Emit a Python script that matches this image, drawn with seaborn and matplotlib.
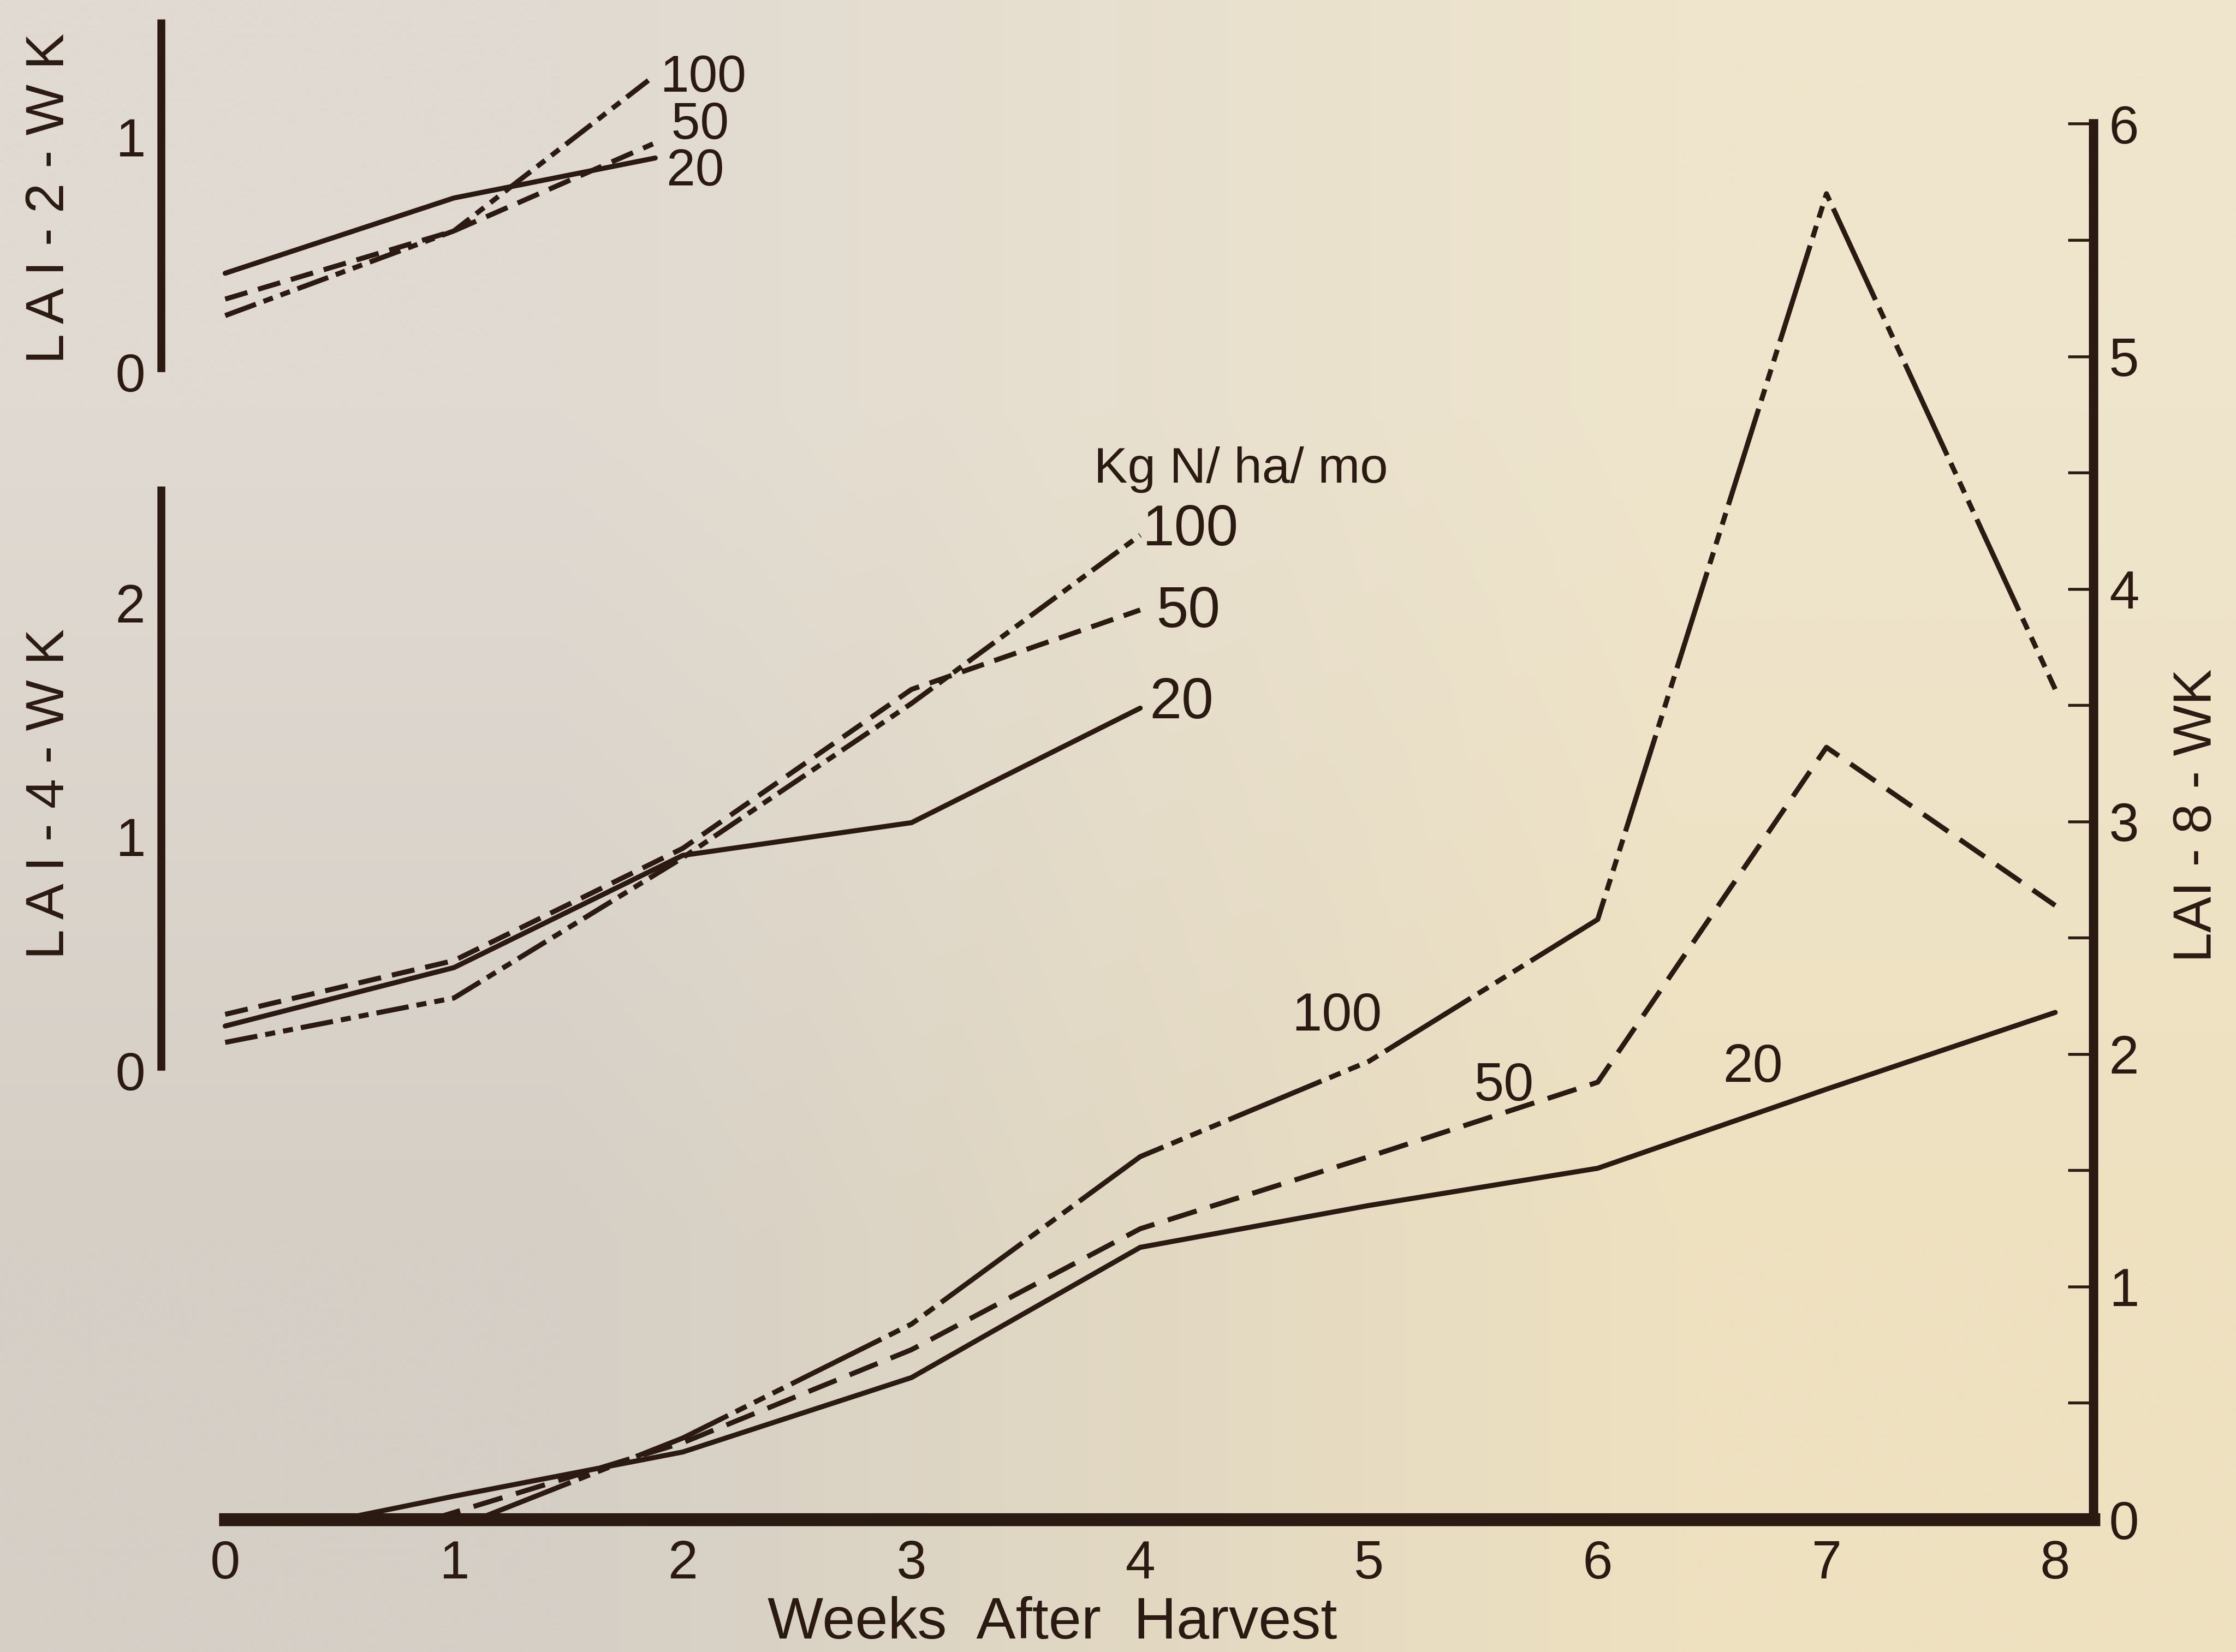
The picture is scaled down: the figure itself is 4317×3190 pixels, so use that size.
import numpy as np
import pandas as pd
import matplotlib
matplotlib.use("Agg")
import matplotlib.pyplot as plt
import seaborn as sns

# ---------------- data ----------------
rates = ["20", "50", "100"]

# LAI after 2 weeks of regrowth
wk2_weeks_20 = [0, 1, 1.88]
wk2_lai_20 = [0.42, 0.74, 0.91]
wk2_weeks_50 = [0, 1, 1.87]
wk2_lai_50 = [0.31, 0.60, 0.97]
wk2_weeks_100 = [0, 1, 1.85]
wk2_lai_100 = [0.24, 0.60, 1.24]

# LAI after 4 weeks of regrowth
wk4_weeks = [0, 1, 2, 3, 4]
wk4_lai_20 = [0.19, 0.44, 0.92, 1.06, 1.55]
wk4_lai_50 = [0.24, 0.47, 0.95, 1.63, 1.97]
wk4_lai_100 = [0.12, 0.31, 0.91, 1.57, 2.29]

# LAI after 8 weeks of regrowth
wk8_weeks_20 = [0.5, 1, 2, 3, 4, 5, 6, 7, 8]
wk8_lai_20 = [0.0, 0.10, 0.29, 0.61, 1.17, 1.35, 1.51, 1.85, 2.18]
wk8_weeks_50 = [0.9, 2, 3, 4, 5, 6, 7, 8]
wk8_lai_50 = [0.0, 0.33, 0.73, 1.25, 1.56, 1.88, 3.32, 2.64]
wk8_weeks_100 = [1.1, 2, 3, 4, 5, 6, 7, 8]
wk8_lai_100 = [0.0, 0.35, 0.84, 1.56, 1.97, 2.58, 5.70, 3.57]

x_ticks = [0, 1, 2, 3, 4, 5, 6, 7, 8]
y8_ticks = [0, 1, 2, 3, 4, 5, 6]
y4_ticks = [0, 1, 2]
y2_ticks = [0, 1]


def long_df(weeks_list, lai_list):
    frames = []
    for r, w, v in zip(rates, weeks_list, lai_list):
        frames.append(pd.DataFrame({"week": w, "lai": v, "rate": r}))
    return pd.concat(frames, ignore_index=True)


df2 = long_df([wk2_weeks_20, wk2_weeks_50, wk2_weeks_100],
              [wk2_lai_20, wk2_lai_50, wk2_lai_100])
df4 = long_df([wk4_weeks] * 3, [wk4_lai_20, wk4_lai_50, wk4_lai_100])
df8 = long_df([wk8_weeks_20, wk8_weeks_50, wk8_weeks_100],
              [wk8_lai_20, wk8_lai_50, wk8_lai_100])

# ---------------- style ----------------
sns.set_style("white")
plt.rcParams["font.family"] = ["Liberation Sans", "DejaVu Sans"]
INK = "#2b1a12"
LW = 7
FS = 75

dash_main = {"20": "", "50": (6.0, 2.8), "100": (20, 1.7, 2.4, 1.7, 2.4, 1.7, 2.4, 1.7)}
dash_small = {"20": "", "50": (4.6, 2.2), "100": (6.5, 1.6, 2.0, 1.6, 2.0, 1.6)}

W, H = 1568.0, 1159.0  # layout reference grid
fig = plt.figure(figsize=(43.17, 31.90), dpi=100)

# paper background
bg = fig.add_axes([0, 0, 1, 1], zorder=-10)
paper = np.array([[[224, 218, 210], [239, 229, 204]],
                  [[213, 207, 198], [238, 225, 192]]]) / 255.0
bg.imshow(paper, extent=[0, 1, 0, 1], aspect="auto", interpolation="bilinear")
bg.set_axis_off()

XMAX = 8.167

# ---------------- main axes (LAI-8-WK) ----------------
ax = fig.add_axes([158 / W, 1 - 1066 / H, (1468 - 158) / W, (1066 - 87) / H])
ax.patch.set_alpha(0)
sns.lineplot(data=df8, x="week", y="lai", style="rate", dashes=dash_main,
             color=INK, lw=LW, legend=False, estimator=None, sort=True, ax=ax)
ax.set_xlim(0, XMAX)
ax.set_ylim(0, 6)
for s in ["top", "left"]:
    ax.spines[s].set_visible(False)
ax.spines["bottom"].set_linewidth(18)
ax.spines["right"].set_linewidth(13)
for s in ["bottom", "right"]:
    ax.spines[s].set_color(INK)
    ax.spines[s].set_capstyle("projecting")
ax.yaxis.tick_right()
ax.set_xticks(x_ticks)
ax.set_xticklabels([str(t) for t in x_ticks])
ax.set_yticks(y8_ticks)
ax.set_yticklabels([str(t) for t in y8_ticks])
ax.set_yticks(np.arange(0.5, 6, 1.0), minor=True)
ax.tick_params(axis="x", direction="in", length=27, width=4, color=INK,
               labelsize=FS, labelcolor=INK, pad=28)
ax.tick_params(axis="y", which="both", direction="in", length=35, width=4,
               color=INK, labelsize=FS, labelcolor=INK, pad=22,
               right=True, left=False)
ax.set_xlabel("Weeks  After  Harvest", fontsize=82, color=INK)
ax.xaxis.set_label_coords(0.4427, -0.055)
ax.set_ylabel("")
ax.text(1.0557, 0.5046, "LAI - 8 - WK", transform=ax.transAxes, rotation=90,
        ha="center", va="center", fontsize=FS, color=INK)
ax.text(4.86, 2.16, "100", ha="center", va="center", fontsize=FS, color=INK)
ax.text(5.59, 1.86, "50", ha="center", va="center", fontsize=FS, color=INK)
ax.text(6.68, 1.94, "20", ha="center", va="center", fontsize=FS, color=INK)


def small_axes(rect, ylim, major, minor):
    a = fig.add_axes(rect)
    a.patch.set_alpha(0)
    a.set_xlim(-0.28, XMAX)
    a.set_ylim(*ylim)
    for s in ["top", "right", "bottom"]:
        a.spines[s].set_visible(False)
    a.spines["left"].set_linewidth(11)
    a.spines["left"].set_color(INK)
    a.spines["left"].set_capstyle("butt")
    a.set_xticks([])
    a.set_yticks(major)
    a.set_yticklabels([str(t) for t in major])
    a.set_yticks(minor, minor=True)
    a.tick_params(axis="y", which="both", direction="in", length=36, width=4,
                  color=INK, labelsize=FS, labelcolor=INK, pad=22)
    a.set_xlabel("")
    return a


# ---------------- LAI-4-WK ----------------
ax4 = small_axes([113 / W, 1 - 751 / H, (1468 - 113) / W, (751 - 341) / H],
                 (0, 2.5), y4_ticks, [0.5, 1.5, 2.5])
sns.lineplot(data=df4, x="week", y="lai", style="rate", dashes=dash_small,
             color=INK, lw=LW, legend=False, estimator=None, sort=True, ax=ax4)
ax4.set_xlim(-0.28, XMAX)
ax4.set_ylim(0, 2.5)
ax4.set_xlabel("")
ax4.set_ylabel("")
ax4.set_xticks([])
ax4.text(4.44, 2.57, "Kg N/ ha/ mo", ha="center", va="center", fontsize=70, color=INK)
ax4.text(4.01, 2.31, "100", ha="left", va="center", fontsize=80, color=INK)
ax4.text(4.07, 1.96, "50", ha="left", va="center", fontsize=80, color=INK)
ax4.text(4.04, 1.57, "20", ha="left", va="center", fontsize=80, color=INK)

# ---------------- LAI-2-WK ----------------
ax2 = small_axes([113 / W, 1 - 261 / H, (1468 - 113) / W, (261 - 13.5) / H],
                 (0, 1.5), y2_ticks, [0.5, 1.5])
sns.lineplot(data=df2, x="week", y="lai", style="rate", dashes=dash_small,
             color=INK, lw=LW, legend=False, estimator=None, sort=True, ax=ax2)
ax2.set_xlim(-0.28, XMAX)
ax2.set_ylim(0, 1.5)
ax2.set_xlabel("")
ax2.set_ylabel("")
ax2.set_xticks([])
ax2.text(1.90, 1.25, "100", ha="left", va="center", fontsize=72, color=INK)
ax2.text(1.95, 1.05, "50", ha="left", va="center", fontsize=72, color=INK)
ax2.text(1.93, 0.85, "20", ha="left", va="center", fontsize=72, color=INK)

fig.text(35 / W, 1 - 139 / H, "L A I - 2 - W K", rotation=90, ha="center", va="center",
         fontsize=FS, color=INK)
fig.text(35 / W, 1 - 557 / H, "L A I - 4 - W K", rotation=90, ha="center", va="center",
         fontsize=FS, color=INK)

fig.savefig("out.png", dpi=100)
